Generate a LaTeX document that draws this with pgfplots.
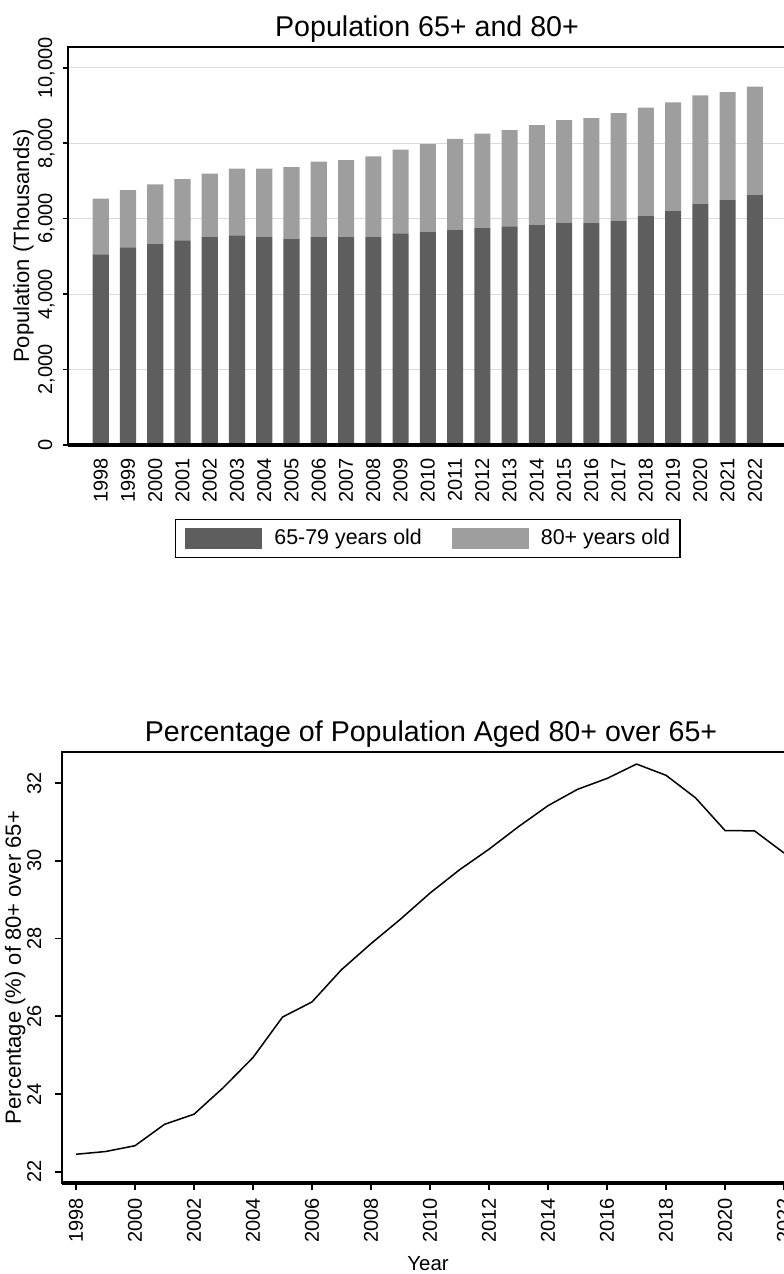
\documentclass[border=0pt]{standalone}
\usepackage{fontspec}
\setmainfont{Liberation Sans}
\usepackage{pgfplots}
\usepackage{pgfplotstable}
\pgfplotsset{compat=1.18}
\definecolor{darkbar}{RGB}{94,94,94}
\definecolor{lightbar}{RGB}{158,158,158}
\definecolor{gridc}{RGB}{218,218,218}

% year, 65-79, 80+ (thousands)
\pgfplotstableread{
year young old
1998 5053 1475
1999 5238 1520
2000 5327 1581
2001 5424 1626
2002 5512 1679
2003 5557 1766
2004 5512 1811
2005 5468 1900
2006 5512 1997
2007 5512 2041
2008 5512 2138
2009 5610 2217
2010 5654 2323
2011 5707 2411
2012 5751 2500
2013 5795 2553
2014 5839 2642
2015 5892 2721
2016 5892 2774
2017 5936 2863
2018 6069 2871
2019 6210 2871
2020 6396 2871
2021 6493 2862
2022 6626 2871
}\popdata

\pgfplotstableread{
year pct
1998 22.45
1999 22.52
2000 22.67
2001 23.22
2002 23.48
2003 24.17
2004 24.94
2005 25.98
2006 26.37
2007 27.20
2008 27.87
2009 28.50
2010 29.17
2011 29.77
2012 30.30
2013 30.88
2014 31.42
2015 31.84
2016 32.12
2017 32.49
2018 32.20
2019 31.62
2020 30.78
2021 30.77
2022 30.20
}\pctdata

\begin{document}
\begin{tikzpicture}
\pgfplotsset{
  common/.style={
    scale only axis,
    anchor=south west,
    axis line style={line width=0.9pt},
    tick style={black, line width=0.8pt},
    tick align=outside,
    tick pos=left,
    /pgf/number format/assume math mode=true,
    tick label style={font=\fontsize{10}{12}\selectfont},
    every axis title/.style={at={(axis description cs:0.5,1)}, anchor=base, yshift=5.5pt, font=\fontsize{14.3}{16}\selectfont},
    after end axis/.code={\draw[line width=1.7pt] (rel axis cs:0,0) -- (rel axis cs:1,0);},
  }
}
% ---------------- top chart ----------------
\begin{axis}[
  common,
  at={(34pt,-222.5pt)},
  width=359pt, height=199pt,
  ybar stacked,
  bar width=0.59,
  xmin=1996.8, xmax=2023.14,
  ymin=0, ymax=10550,
  xtick={1998,1999,...,2022},
  x tick label style={/pgf/number format/1000 sep=, rotate=90, anchor=east, inner sep=0pt},
  xticklabel shift=4pt,
  xtick style={draw=none},
  ytick={0,2000,4000,6000,8000,10000},
  y tick label style={/pgf/number format/1000 sep={,}, rotate=90, anchor=base, inner sep=0pt},
  yticklabel shift=5.5pt,
  major tick length=2.5pt,
  scaled y ticks=false,
  ymajorgrids,
  major grid style={gridc, line width=0.6pt},
  title={Population 65+ and 80+},
  ylabel={Population (Thousands)},
  every axis y label/.style={at={(axis description cs:-0.0543,0.5)}, rotate=90, anchor=base, font=\fontsize{11}{13}\selectfont},
  legend columns=2,
  legend style={at={(0.501,-0.1847)}, anchor=north, draw=black, line width=0.7pt,
    font=\fontsize{10.7}{12}\selectfont, inner xsep=5pt, inner ysep=4pt,
    nodes={inner xsep=0pt, inner ysep=1pt},
    /tikz/every odd column/.append style={column sep=6pt},
    /tikz/every even column/.append style={column sep=15pt}},
  legend image code/.code={\fill[#1] (0pt,-5.2pt) rectangle (38.5pt,5.2pt);},
]
\addplot[fill=darkbar, draw=none] table[x=year, y=young] {\popdata};
\addplot[fill=lightbar, draw=none] table[x=year, y=old] {\popdata};
\legend{65-79 years old, 80+ years old}
\end{axis}

% ---------------- bottom chart ----------------
\begin{axis}[
  common,
  at={(31pt,-591.5pt)},
  width=369pt, height=215.5pt,
  xmin=1997.525, xmax=2022.54,
  ymin=21.71, ymax=32.8,
  xtick={1998,2000,...,2022},
  x tick label style={/pgf/number format/1000 sep=, rotate=90, anchor=east, inner sep=0pt},
  xticklabel shift=4pt,
  ytick={22,24,...,32},
  y tick label style={rotate=90, anchor=base, inner sep=0pt},
  yticklabel shift=7pt,
  major tick length=3.5pt,
  title={Percentage of Population Aged 80+ over 65+},
  ylabel={Percentage (\%) of 80+ over 65+},
  every axis y label/.style={at={(axis description cs:-0.0556,0.5)}, rotate=90, anchor=base, font=\fontsize{11}{13}\selectfont},
  xlabel={Year},
  every axis x label/.style={at={(axis description cs:0.496,0)}, anchor=base, yshift=-43.5pt, font=\fontsize{10.2}{12}\selectfont},
]
\addplot[black, line width=0.75pt, mark=none] table[x=year, y=pct] {\pctdata};
\end{axis}

\pgfresetboundingbox
\useasboundingbox (0pt,0pt) rectangle (391.5pt,-637pt);
\end{tikzpicture}
\end{document}
